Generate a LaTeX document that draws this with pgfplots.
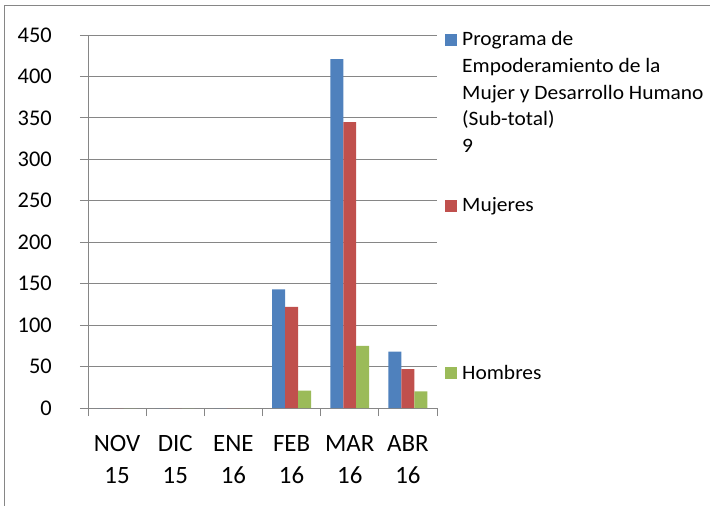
\documentclass[border=0pt]{standalone}
\usepackage{fontspec}
\setmainfont{Carlito}
\newfontfamily\lgfont{Carlito}[FakeStretch=1.05]
\usepackage{pgfplots}
\pgfplotsset{compat=1.18}
\definecolor{sBlue}{RGB}{79,129,189}
\definecolor{sRed}{RGB}{192,80,77}
\definecolor{sGreen}{RGB}{155,187,89}
\definecolor{gridgray}{RGB}{134,134,134}

\begin{document}
\begin{tikzpicture}
\begin{axis}[
    at={(0,0)}, anchor=south west,
    scale only axis, width=349bp, height=373bp,
    xmin=-0.5, xmax=5.5, ymin=0, ymax=450,
    ybar=0pt, bar width=0.223,
    axis lines*=left,
    axis line style={gridgray, line width=0.9bp},
    ymajorgrids, grid style={gridgray, line width=0.9bp},
    ytick={0,50,...,450},
    xtick={-0.5,0.5,...,5.5}, xticklabels={},
    extra x ticks={0,1,2,3,4,5},
    extra x tick labels={NOV\\15, DIC\\15, ENE\\16, FEB\\16, MAR\\16, ABR\\16},
    extra x tick style={major tick length=0pt, grid=none},
    tick align=outside, major tick length=8bp,
    tick style={gridgray, line width=0.9bp},
    /pgf/number format/assume math mode=true,
    yticklabel style={font=\fontsize{22.5}{26}\selectfont, anchor=east, inner sep=0pt, xshift=-28bp},
    xticklabel style={font=\fontsize{25}{32}\selectfont, align=center, anchor=north, inner sep=0pt, yshift=-27bp},
]
\addplot[fill=sBlue, draw=none] coordinates {(0,0) (1,0) (2,0) (3,143) (4,421) (5,68)};
\addplot[fill=sRed, draw=none] coordinates {(0,0) (1,0) (2,0) (3,122) (4,345) (5,47)};
\addplot[fill=sGreen, draw=none] coordinates {(0,0) (1,0) (2,0) (3,21) (4,75) (5,20)};
\end{axis}
% legend, placed beside the plot area
\begin{scope}[every node/.style={inner sep=0pt, anchor=base west, font=\lgfont\fontsize{20.5}{26.7}\selectfont}]
\fill[sBlue] (357bp,362bp) rectangle (369bp,374bp);
\node at (374bp,362bp) {\parbox[t]{260bp}{Programa de\par Empoderamiento de la\par Mujer y Desarrollo Humano\par (Sub-total)\par 9}};
\fill[sRed] (357bp,196bp) rectangle (369bp,208bp);
\node at (374bp,196bp) {Mujeres};
\fill[sGreen] (357bp,29bp) rectangle (369bp,41bp);
\node at (374bp,29bp) {Hombres};
\end{scope}
\draw[gridgray, line width=0.9bp] (-84bp,-120bp) -- (-84bp,403bp) -- (650bp,403bp);
\pgfresetboundingbox
\useasboundingbox (-88bp,-98bp) rectangle (622bp,408bp);
\end{tikzpicture}
\end{document}
